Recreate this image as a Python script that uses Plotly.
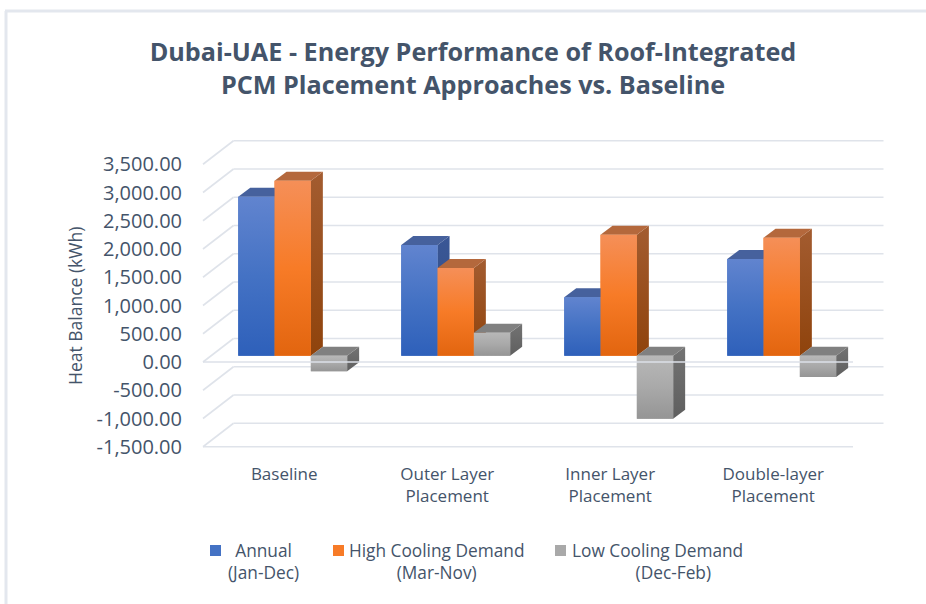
import plotly.graph_objects as go

categories = ["Baseline", "Outer Layer<br>Placement", "Inner Layer<br>Placement", "Double-layer<br>Placement"]
series_names = ["Annual<br>(Jan-Dec)", "High Cooling Demand<br>(Mar-Nov)", "Low Cooling Demand<br>&nbsp;&nbsp;&nbsp;&nbsp;&nbsp;&nbsp;&nbsp;(Dec-Feb)"]
annual = [2814, 1959, 1034, 1711]
high_cooling = [3097, 1552, 2142, 2088]
low_cooling = [-276, 407, -1115, -377]
tick_values = [3500, 3000, 2500, 2000, 1500, 1000, 500, 0, -500, -1000, -1500]
tick_labels = ["3,500.00", "3,000.00", "2,500.00", "2,000.00", "1,500.00", "1,000.00", "500.00", "0.00", "-500.00", "-1,000.00", "-1,500.00"]

W, H = 926, 604
PL, PR, PT, PB = 190, 890, 130, 460       # plot area in pixels
PX_PER_CAT, PX_PER_VAL = 163.0, 0.0565
X0_PX, Y0_PX = 292.7, 355.7               # pixel of x=0 and value 0 on the bar plane

def dx(px): return px / PX_PER_CAT
def dy(px): return px / PX_PER_VAL

BAR_W = 36.3 / PX_PER_CAT
DEPTH_X, DEPTH_Y = dx(12), dy(9)
FRONT_SHIFT_Y = -dy(6.3)
BACK_SHIFT_Y = dy(17.2)
GRID_L = dx(203 - X0_PX)
GRID_R = dx(853 - X0_PX)
GRID_DX = dx(30.5)

TEXT = "#44546a"
GRID = "#dfe3ea"
FONT = "Open Sans"

styles = [
    dict(front=["#6184cf", "#4472c4", "#2e60ba"], top="#46619d", side=["#3a5796", "#2f4a84"]),
    dict(front=["#f58f58", "#f77b27", "#e2650f"], top="#b4683c", side=["#a35c30", "#8f430c"]),
    dict(front=["#b8b8b8", "#a9a9a9", "#959595"], top="#808080", side=["#737373", "#5f5f5f"]),
]
series = [annual, high_cooling, low_cooling]
n = len(series)

def scale(cols):
    # fillgradient's colorscale runs from the bottom of the polygon to its top
    cols = cols[::-1]
    return [[0, cols[0]], [0.5, cols[1]], [1, cols[-1]]] if len(cols) == 3 else [[0, cols[0]], [1, cols[1]]]

fig = go.Figure()
for s, (vals, st, name) in enumerate(zip(series, styles, series_names)):
    fig.add_trace(go.Bar(x=list(range(len(categories))), y=vals, name=name.replace("<br>", " "),
                         marker=dict(color=st["front"][1], line_width=0), showlegend=False))

def poly(xs, ys, **kw):
    fig.add_trace(go.Scatter(x=xs, y=ys, mode="lines", fill="toself", line=dict(width=0),
                             hoverinfo="skip", showlegend=False, **kw))

for s, (vals, st) in enumerate(zip(series, styles)):
    for i, v in enumerate(vals):
        l = i + (s - n / 2) * BAR_W
        r = l + BAR_W
        upper = max(v, 0)
        # side face
        poly([r, r + DEPTH_X, r + DEPTH_X, r, r],
             [upper, upper + DEPTH_Y, min(v, 0) + DEPTH_Y, min(v, 0), upper],
             fillgradient=dict(type="vertical", colorscale=scale(st["side"])))
        # top face
        poly([l, l + DEPTH_X, r + DEPTH_X, r, l],
             [upper, upper + DEPTH_Y, upper + DEPTH_Y, upper, upper], fillcolor=st["top"])
        # shaded front face
        poly([l, r, r, l, l], [0, 0, v, v, 0],
             fillgradient=dict(type="vertical", colorscale=scale(st["front"])))

# front zero line runs over the bars
fig.add_trace(go.Scatter(x=[GRID_L, GRID_R], y=[FRONT_SHIFT_Y, FRONT_SHIFT_Y], mode="lines",
                         line=dict(color="#dde1e8", width=1.5), hoverinfo="skip", showlegend=False))

shapes = []
def grid_line(x0, y0, x1, y1):
    shapes.append(dict(type="line", xref="x", yref="y", x0=x0, y0=y0, x1=x1, y1=y1, layer="below",
                       line=dict(color=GRID, width=1.6)))

for v in tick_values:
    grid_line(GRID_L, v + FRONT_SHIFT_Y, GRID_L + GRID_DX, v + BACK_SHIFT_Y)
    grid_line(GRID_L + GRID_DX, v + BACK_SHIFT_Y, GRID_R + GRID_DX, v + BACK_SHIFT_Y)
grid_line(GRID_L, tick_values[-1] + FRONT_SHIFT_Y, GRID_R, tick_values[-1] + FRONT_SHIFT_Y)

def px_x(p): return (p - PL) / (PR - PL)
def px_y(p): return (PB - p) / (PB - PT)

# outer frame of the chart
shapes.append(dict(type="line", xref="paper", yref="paper", x0=px_x(5), x1=px_x(W), y0=px_y(11), y1=px_y(11),
                   line=dict(color="#e3e7ee", width=3)))
shapes.append(dict(type="line", xref="paper", yref="paper", x0=px_x(6), x1=px_x(6), y0=px_y(11), y1=px_y(H),
                   line=dict(color="#e3e7ee", width=3)))

# manual legend: swatches and centred two-line labels
legend_swatch_px = [210, 333, 555]
legend_text_px = [263, 436, 657]
annotations = []
for st, name, sx, tx in zip(styles, series_names, legend_swatch_px, legend_text_px):
    shapes.append(dict(type="rect", xref="paper", yref="paper", x0=px_x(sx), x1=px_x(sx + 11),
                       y0=px_y(545), y1=px_y(556), fillcolor=st["front"][1], line_width=0))
    annotations.append(dict(xref="paper", yref="paper", x=px_x(tx), y=px_y(537), xanchor="center", yanchor="top",
                            text=name, showarrow=False, align="center", font=dict(family=FONT, size=17.3, color=TEXT)))

annotations.append(dict(xref="paper", yref="paper", x=px_x(75), y=px_y(306), xanchor="center", yanchor="middle",
                        text="Heat Balance (kWh)", textangle=-90, showarrow=False,
                        font=dict(family=FONT, size=17.5, color=TEXT)))

fig.update_layout(
    width=W, height=H, paper_bgcolor="white", plot_bgcolor="white",
    margin=dict(l=PL, r=W - PR, t=PT, b=H - PB, autoexpand=False),
    barmode="group", bargap=1 - n * BAR_W, bargroupgap=0,
    title=dict(text="<b>Dubai-UAE - Energy Performance of Roof-Integrated<br>PCM Placement Approaches vs. Baseline</b>",
               x=473 / W, xanchor="center", y=1 - 61 / H, yanchor="top",
               font=dict(family=FONT, size=25.2, color=TEXT)),
    xaxis=dict(range=[dx(PL - X0_PX), dx(PR - X0_PX)], showgrid=False, zeroline=False, showline=False,
               tickmode="array", tickvals=[i - dx(8.5) for i in range(len(categories))], ticktext=categories,
               tickfont=dict(family=FONT, size=17, color=TEXT), ticks="", tickangle=0, ticklabelstandoff=2),
    yaxis=dict(range=[dy(Y0_PX - PB), dy(Y0_PX - PT)], showgrid=False, zeroline=False, showline=False,
               tickmode="array", tickvals=[v + FRONT_SHIFT_Y for v in tick_values], ticktext=tick_labels,
               tickfont=dict(family=FONT, size=20, color=TEXT), ticks="", ticklabelstandoff=7),
    shapes=shapes, annotations=annotations, showlegend=False,
)

fig.write_html("out.html", config=dict(displayModeBar=False),
               post_script="document.body.style.margin='0';document.body.style.overflow='hidden';")
